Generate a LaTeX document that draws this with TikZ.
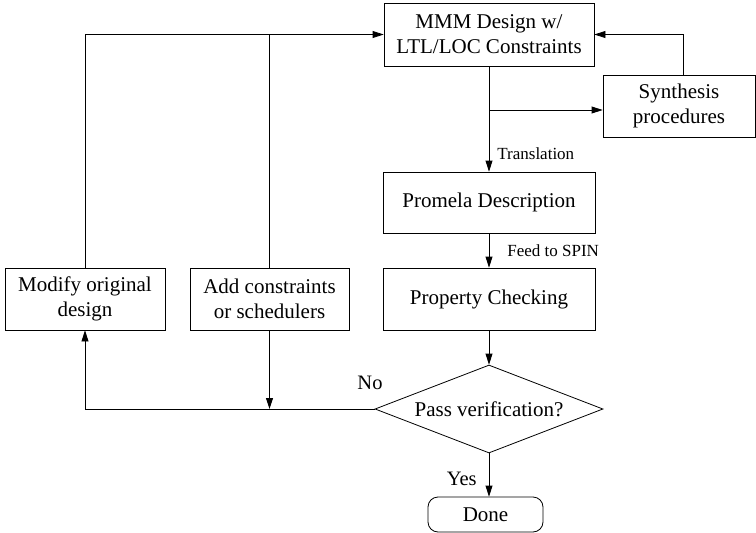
\documentclass[tikz,border=0pt]{standalone}
\usepackage{fontspec}
\setmainfont{Liberation Serif}
\usetikzlibrary{shapes.geometric,arrows.meta}
\begin{document}
\begin{tikzpicture}[x=1pt,y=-1pt,
  box/.style={draw, line width=0.8pt, inner sep=2pt, align=center, font=\fontsize{21}{25}\selectfont},
  lbl/.style={font=\fontsize{17}{20}\selectfont, inner sep=0pt},
  big/.style={font=\fontsize{20.5}{24}\selectfont, inner sep=0pt},
  conn/.style={line width=0.8pt},
  arr/.style={conn, -{Triangle[length=11pt,width=7pt]}}]
\useasboundingbox (0,0) rectangle (756,533);
\node[box, minimum width=210pt, minimum height=63pt] (mmm) at (489,34.5) {MMM Design w/\\LTL/LOC Constraints};
\node[box, minimum width=152pt, minimum height=62pt] (syn) at (679,106) {Synthesis\\procedures};
\node[box, minimum width=212pt, minimum height=61pt] (pro) at (489,202.5) {Promela Description};
\node[box, minimum width=212pt, minimum height=62pt] (chk) at (489,299) {Property Checking};
\node[box, diamond, aspect=2.6, inner sep=0pt, minimum width=228pt, minimum height=88pt] (dia) at (489,409) {Pass verification?};
\node[box, rounded corners=10pt, minimum width=115pt, minimum height=35pt] (done) at (485.5,514.5) {Done};
\node[box, minimum width=160pt, minimum height=62pt] (mod) at (85,299) {Modify original\\design};
\node[box, minimum width=159pt, minimum height=62pt] (add) at (269.5,299) {Add constraints\\or schedulers};
\coordinate (br) at (489,110);
\coordinate (sy) at (683,137);
\draw[arr] (mmm.south) -- (pro.north) node[lbl, pos=0.83, anchor=west, xshift=8pt] {Translation};
\draw[arr] (br) -- (br -| syn.west);
\draw[arr] (syn.north -| sy) |- (mmm.east);
\draw[arr] (pro.south) -- (chk.north) node[lbl, midway, anchor=west, xshift=18pt] {Feed to SPIN};
\draw[arr] (chk.south) -- (dia.north);
\draw[arr] (dia.south) -- (dia.south |- done.north) node[big, midway, anchor=east, xshift=-12pt, yshift=-4pt] {Yes};
\draw[arr] (dia.west) -| (mod.south);
\draw[arr] (add.south) -- (add.south |- dia.west);
\draw[arr] (mod.north) |- (mmm.west);
\draw[conn] (add.north) -- (add.north |- mmm.west);
\node[big] (no) at (370,383) {No};
\end{tikzpicture}
\end{document}
